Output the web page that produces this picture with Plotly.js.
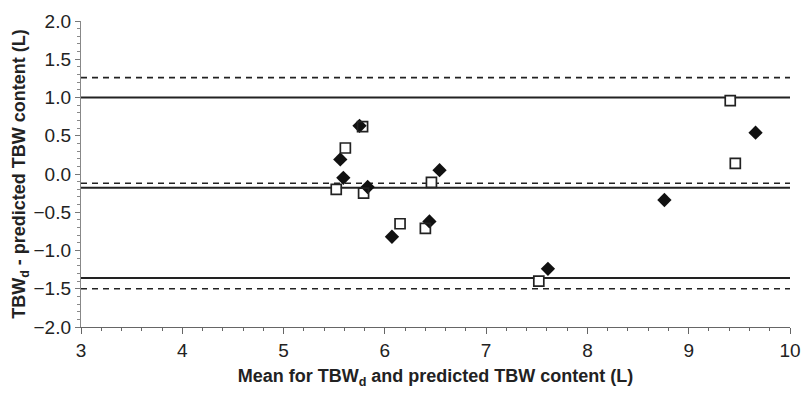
<!DOCTYPE html>
<html>
<head>
<meta charset="utf-8">
<script src="https://cdn.plot.ly/plotly-3.0.1.min.js"></script>
<style>html,body{margin:0;padding:0;background:#fff;}#chart{width:801px;height:401px;}</style>
</head>
<body>
<div id="chart"></div>
<script>
// Series A (filled diamonds)
const diamondX = [5.75, 5.56, 5.59, 5.83, 6.54, 6.44, 6.07, 7.61, 8.76, 9.66];
const diamondY = [0.63, 0.19, -0.05, -0.17, 0.05, -0.62, -0.82, -1.24, -0.34, 0.54];
// Series B (open squares)
const squareX = [5.78, 5.61, 5.52, 5.79, 6.46, 6.15, 6.40, 7.52, 9.41, 9.46];
const squareY = [0.62, 0.34, -0.20, -0.25, -0.11, -0.65, -0.71, -1.40, 0.96, 0.14];
// Bias and limits of agreement
const solidLines = [1.0, -0.18, -1.36];
const dashedLines = [1.26, -0.12, -1.50];

const shapes = [];
solidLines.forEach(v => shapes.push({type:'line', xref:'paper', yref:'y', x0:0, x1:1, y0:v, y1:v, layer:'below', line:{color:'#222', width:2}}));
dashedLines.forEach(v => shapes.push({type:'line', xref:'paper', yref:'y', x0:0, x1:1, y0:v, y1:v, layer:'below', line:{color:'#222', width:1.6, dash:'6px,5px'}}));

const data = [
  {x: squareX, y: squareY, mode:'markers', type:'scatter', cliponaxis:false,
   marker:{symbol:'square', size:9, color:'#fff', line:{width:0}}, hoverinfo:'skip'},
  {x: diamondX, y: diamondY, mode:'markers', type:'scatter', cliponaxis:false,
   marker:{symbol:'diamond', size:11, color:'#111', line:{width:0}}},
  {x: squareX, y: squareY, mode:'markers', type:'scatter', cliponaxis:false,
   marker:{symbol:'square-open', size:10, color:'#222', line:{width:1.7, color:'#222'}}}
];

const layout = {
  width: 801, height: 401,
  margin: {l: 81, r: 11, t: 21, b: 74},
  paper_bgcolor: '#fff', plot_bgcolor: '#fff',
  showlegend: false,
  font: {family: 'Liberation Sans, Arial, sans-serif', color: '#222', size: 16},
  xaxis: {
    range: [3, 10], dtick: 1, tick0: 3, showgrid: false, zeroline: false,
    showline: true, linecolor: '#666', linewidth: 1.2,
    ticks: 'outside', ticklen: 6, tickcolor: '#666', tickwidth: 1,
    minor: {dtick: 0.2, ticks: 'outside', ticklen: 3, tickcolor: '#666', showgrid: false},
    tickfont: {family: 'Liberation Sans Narrow, Liberation Sans, Arial, sans-serif', size: 19, color: '#222'},
    title: {text: '<b>Mean for TBW<sub>d</sub> and predicted TBW content (L)</b>', font: {size: 18, color: '#222'}, standoff: 9}
  },
  yaxis: {
    range: [-2, 2], dtick: 0.5, tick0: 0, tickformat: '.1f', showgrid: false, zeroline: false,
    showline: true, linecolor: '#888', linewidth: 1.2,
    ticks: 'outside', ticklen: 5, tickcolor: '#777', tickwidth: 1,
    minor: {dtick: 0.1, ticks: 'outside', ticklen: 3, tickcolor: '#888', showgrid: false},
    tickfont: {size: 19, color: '#222'},
    title: {text: '<b>TBW<sub>d</sub> - predicted TBW content (L)</b>', font: {size: 18, color: '#222'}, standoff: 3}
  },
  shapes: shapes
};
Plotly.newPlot('chart', data, layout, {displayModeBar: false, staticPlot: true});
</script>
</body>
</html>
